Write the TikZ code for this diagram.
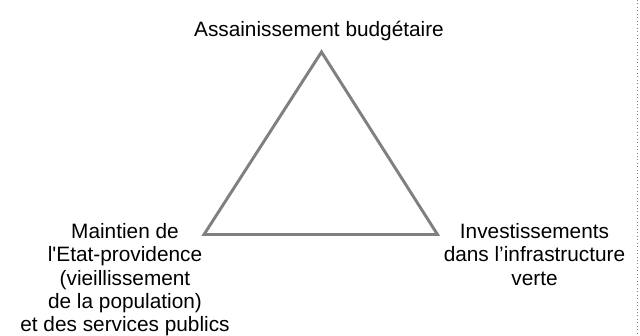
\documentclass[tikz,border=0pt]{standalone}
\usepackage{fontspec}
\setmainfont{Liberation Sans}
\usetikzlibrary{positioning}
\definecolor{mgray}{HTML}{808080}
\tikzstyle{l1}=[line width=2.2pt]
\tikzstyle{lbl}=[align=center, inner sep=0pt, font=\fontsize{15.6}{17.5}\selectfont]
\begin{document}
\begin{tikzpicture}[x=0.75pt, y=-0.75pt]
    \useasboundingbox (0,0) rectangle (640,336);
    \draw[mgray, dotted, line width=0.6pt] (637.5,0) -- (637.5,336);
    % corners of the triangle
    \coordinate (top) at (321.5,52);
    \coordinate (left) at (204,234.5);
    \coordinate (right) at (437.5,234.5);
    \draw[l1, mgray, line join=miter] (top) -- (left) -- (right) -- cycle;

    \node[lbl, anchor=base] (budget) at (319,36.7) {Assainissement budgétaire};
    \node[lbl, anchor=north] (etat) at (125,223) {Maintien de\\l\textquotesingle Etat-providence\\(vieillissement\\de la population)\\et des services publics};
    \node[lbl, anchor=north] (vert) at (534.5,223) {Investissements\\dans l’infrastructure\\verte};
\end{tikzpicture}
\end{document}
